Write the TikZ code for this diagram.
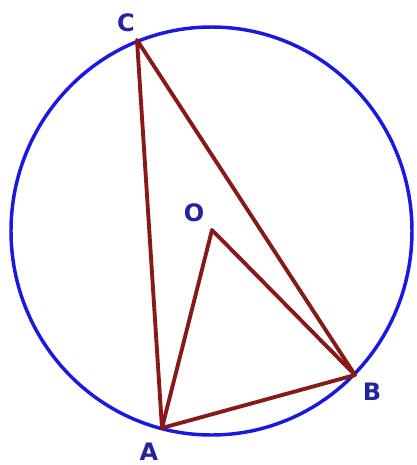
\documentclass[tikz,border=0pt]{standalone}
\usepackage{fontspec}
\setsansfont{DejaVu Sans}
\usetikzlibrary{positioning,calc}
\definecolor{circblue}{RGB}{25,25,225}
\definecolor{chordred}{RGB}{135,25,25}
\definecolor{lblblue}{RGB}{35,35,160}

\begin{document}
\begin{tikzpicture}[
  x=0.75pt,y=-0.75pt,
  every node/.style={inner sep=0pt,outer sep=0pt},
  circ/.style={draw=circblue,line width=2.6pt},
  chord/.style={draw=chordred,line width=2.9pt,line join=round,line cap=round},
  lbl/.style={text=lblblue,font=\fontsize{18}{20}\selectfont\sffamily\bfseries},
]
\useasboundingbox (0,0) rectangle (417,465);
\coordinate (Ctr) at (211.5,231);
\draw[circ] (Ctr) ellipse [x radius=200.5, y radius=204];

\coordinate (C) at (137,40);
\coordinate (O) at (212,230);
\coordinate (B) at (355,375);
\coordinate (A) at (162,428);

\draw[chord] (A)--(C)--(B)--cycle;
\draw[chord] (A)--(O)--(B);

\node[lbl](LC)at(126,23){C};
\node[lbl](LO)at(194,213){O};
\node[lbl](LB)at(372,392){B};
\node[lbl](LA)at(149,452){A};
\end{tikzpicture}
\end{document}
